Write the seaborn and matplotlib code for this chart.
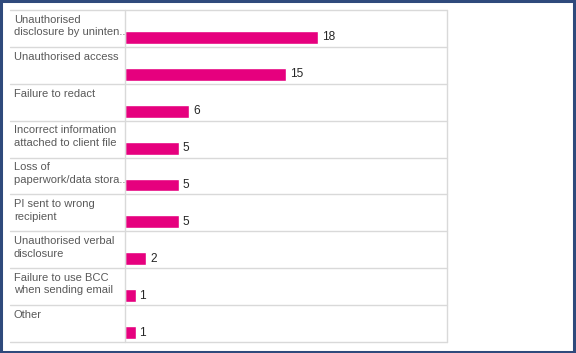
import matplotlib
matplotlib.use("Agg")
import matplotlib.pyplot as plt
import seaborn as sns
import pandas as pd
from matplotlib.patches import Rectangle

categories = [
    "Unauthorised\ndisclosure by uninten..",
    "Unauthorised access",
    "Failure to redact",
    "Incorrect information\nattached to client file",
    "Loss of\npaperwork/data stora..",
    "PI sent to wrong\nrecipient",
    "Unauthorised verbal\ndisclosure",
    "Failure to use BCC\nwhen sending email",
    "Other",
]
counts = [18, 15, 6, 5, 5, 5, 2, 1, 1]

df = pd.DataFrame({"category": categories, "count": counts})

sns.set_style("white")
plt.rcParams["font.family"] = ["Liberation Sans", "DejaVu Sans"]

W, H = 576, 353
fig = plt.figure(figsize=(W / 100, H / 100), dpi=100)

# bar area sits right of the label column
left, right, top, bottom = 125, 447, 10, 342
ax = fig.add_axes([left / W, 1 - bottom / H, (right - left) / W, (bottom - top) / H])

sns.barplot(data=df, y="category", x="count", orient="h", color="#E6007E",
            width=0.35, ax=ax, saturation=1)

n = len(categories)
# bars sit in the lower part of each row
top_off = 0.745
ax.set_ylim(n - top_off, -top_off)
ax.set_xlim(0, 30)
ax.set_xlabel("")
ax.set_ylabel("")
ax.set_xticks([])
ax.set_yticks([])
for s in ax.spines.values():
    s.set_visible(False)

grid = "#D9D9D9"
label_x = (14 - left) / (right - left)
table_x = (10 - left) / (right - left)
for i, (cat, v) in enumerate(zip(categories, counts)):
    ax.text(v + 0.35, i, str(v), va="center", ha="left", fontsize=8.6, color="#262626")
    ax.text(label_x, i - top_off + 0.13, cat, transform=ax.get_yaxis_transform(),
            va="top", ha="left", fontsize=8.0, color="#595959", linespacing=1.3,
            clip_on=False)
for y in [i - top_off for i in range(n + 1)]:
    ax.plot([table_x, 1], [y, y], transform=ax.get_yaxis_transform(), color=grid,
            lw=1, clip_on=False)
ax.plot([0, 0], [-top_off, n - top_off], color=grid, lw=1, clip_on=False)
ax.plot([1, 1], [-top_off, n - top_off], transform=ax.get_yaxis_transform(),
        color=grid, lw=1, clip_on=False)

fig.patches.append(Rectangle((0.002, 0.003), 0.995, 0.993, transform=fig.transFigure,
                             fill=False, edgecolor="#2F4A7C", lw=2.2))

fig.savefig("out.png", dpi=100, facecolor="white")
